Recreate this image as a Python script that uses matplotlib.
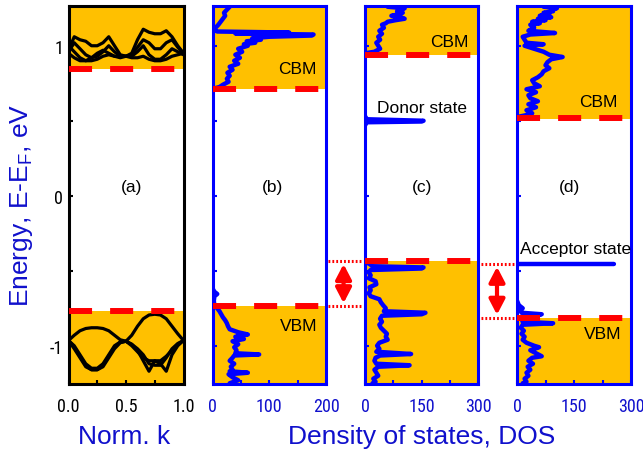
import numpy as np
import matplotlib.pyplot as plt
from matplotlib import font_manager
from matplotlib.ticker import FixedLocator
from matplotlib.transforms import blended_transform_factory

plt.rcParams['lines.scale_dashes'] = False


def pick_font(names):
    for n in names:
        try:
            font_manager.findfont(n, fallback_to_default=False)
            return n
        except Exception:
            pass
    return 'DejaVu Sans'


narrow = pick_font(['Liberation Sans Narrow', 'Roboto Condensed', 'Liberation Sans'])
sans = pick_font(['Liberation Sans', 'Arial', 'DejaVu Sans'])
plt.rcParams['font.family'] = sans

# ---- band structure (panel a), energies ----
k_pts = [0, 0.05, 0.10, 0.15, 0.20, 0.25, 0.30, 0.35, 0.40, 0.45, 0.50,
         0.55, 0.60, 0.65, 0.70, 0.75, 0.80, 0.85, 0.90, 0.95, 1.0]
cb1 = [0.97, 1.06, 1.04, 1.03, 1.00, 1.00, 1.02, 1.06, 1.00, 0.94, 0.93,
       0.95, 1.04, 1.11, 1.09, 1.08, 1.08, 1.10, 1.06, 1.00, 0.95]
cb2 = [0.96, 1.02, 0.98, 0.94, 0.92, 0.93, 0.96, 1.00, 0.96, 0.93, 0.93,
       0.94, 0.99, 1.04, 1.02, 0.98, 0.98, 1.02, 1.04, 0.99, 0.95]
cb3 = [0.95, 0.92, 0.90, 0.90, 0.92, 0.95, 0.97, 0.95, 0.93, 0.93, 0.93,
       0.93, 0.96, 1.00, 0.94, 0.91, 0.91, 0.94, 0.98, 0.96, 0.94]
cb4 = [1.00, 0.96, 0.92, 0.90, 0.90, 0.91, 0.93, 0.94, 0.93, 0.92, 0.93,
       0.92, 0.92, 0.93, 0.91, 0.90, 0.90, 0.91, 0.93, 0.94, 0.95]
vb1 = [-0.965, -0.93, -0.90, -0.885, -0.88, -0.88, -0.885, -0.90, -0.93, -0.96, -0.97,
       -0.93, -0.87, -0.82, -0.795, -0.79, -0.795, -0.82, -0.87, -0.92, -0.965]
vb2 = [-0.965, -1.00, -1.06, -1.12, -1.15, -1.15, -1.12, -1.06, -1.00, -0.975, -0.97,
       -1.00, -1.04, -1.08, -1.10, -1.10, -1.10, -1.07, -1.03, -0.99, -0.965]
vb3 = [-0.965, -1.01, -1.07, -1.13, -1.16, -1.16, -1.13, -1.07, -1.01, -0.975, -0.97,
       -0.99, -1.02, -1.06, -1.12, -1.13, -1.13, -1.08, -1.02, -0.985, -0.965]
vb4 = [-0.965, -1.02, -1.08, -1.14, -1.16, -1.16, -1.14, -1.08, -1.02, -0.98, -0.97,
       -0.99, -1.03, -1.10, -1.17, -1.10, -1.12, -1.17, -1.06, -1.00, -0.965]
bands = [cb1, cb2, cb3, cb4, vb1, vb2, vb3, vb4]

# ---- DOS curves (panels b, c, d): (energy, DOS) ----
e_b = [1.26, 1.24, 1.22, 1.20, 1.18, 1.16, 1.14, 1.12, 1.105, 1.095, 1.088, 1.082,
       1.075, 1.068, 1.06, 1.05, 1.04, 1.03, 1.02, 1.01, 1.00, 0.98, 0.96, 0.94,
       0.92, 0.90, 0.88, 0.86, 0.84, 0.82, 0.80, 0.78, 0.76, 0.74, 0.725, 0.713,
       None,
       -0.62, -0.64, -0.655, -0.67, -0.70, -0.735, -0.75, -0.77, -0.79, -0.81, -0.83,
       -0.85, -0.87, -0.89, -0.91, -0.925, -0.94, -0.955, -0.97, -0.99, -1.01, -1.03,
       -1.05, -1.058, -1.065, -1.08, -1.10, -1.12, -1.14, -1.16, -1.17, -1.18, -1.19,
       -1.21, -1.23, -1.25]
dos_b = [30, 25, 20, 22, 18, 14, 10, 5, 3, 8, 135, 40,
         178, 175, 100, 70, 85, 60, 75, 55, 62, 45, 52, 40,
         48, 38, 45, 30, 35, 26, 30, 25, 28, 18, 12, 0,
         None,
         0, 3, 8, 3, 2, 3, 8, 12, 15, 18, 22,
         25, 27, 30, 45, 62, 40, 55, 35, 45, 38, 42,
         40, 82, 38, 35, 30, 38, 32, 35, 30, 62, 28,
         35, 45, 30]

e_c = [1.26, 1.25, 1.24, 1.23, 1.22, 1.21, 1.20, 1.19, 1.18, 1.17, 1.16, 1.15,
       1.14, 1.12, 1.10, 1.08, 1.06, 1.04, 1.02, 1.00, 0.98, 0.96, 0.95,
       None,
       0.53, 0.51, 0.50, 0.495, 0.49, 0.47,
       None,
       -0.44, -0.455, -0.47, -0.478, -0.485, -0.495, -0.51, -0.53, -0.55, -0.57,
       -0.59, -0.61, -0.63, -0.65, -0.67, -0.69, -0.71, -0.73, -0.75, -0.77, -0.78,
       -0.79, -0.80, -0.82, -0.84, -0.86, -0.88, -0.90, -0.92, -0.94, -0.96, -0.98,
       -1.00, -1.02, -1.04, -1.055, -1.065, -1.08, -1.10, -1.12, -1.13, -1.14, -1.16,
       -1.18, -1.20, -1.22, -1.24, -1.25]
dos_c = [60, 105, 95, 85, 100, 90, 70, 95, 105, 80, 60, 55,
         45, 50, 38, 45, 35, 40, 30, 35, 40, 25, 0,
         None,
         0, 5, 155, 150, 5, 0,
         None,
         0, 12, 20, 155, 150, 15, 10, 15, 10, 28,
         30, 12, 15, 10, 15, 38, 42, 48, 55, 50, 160,
         150, 45, 40, 45, 38, 42, 50, 58, 55, 60, 38,
         32, 38, 30, 122, 40, 28, 25, 30, 118, 35, 25,
         30, 35, 22, 28, 20]

e_d = [1.26, 1.25, 1.24, 1.23, 1.22, 1.21, 1.20, 1.19, 1.18, 1.17, 1.16, 1.15,
       1.14, 1.12, 1.10, 1.085, 1.075, 1.06, 1.04, 1.02, 1.01, 1.00, 0.98, 0.96,
       0.94, 0.925, 0.91, 0.89, 0.87, 0.85, 0.83, 0.81, 0.79, 0.77, 0.75, 0.73,
       0.71, 0.69, 0.67, 0.65, 0.63, 0.61, 0.59, 0.57, 0.55, 0.535, 0.525,
       None,
       -0.455, -0.455,
       None,
       -0.70, -0.73, -0.75, -0.765, -0.78, -0.79, -0.80, -0.82, -0.84, -0.85, -0.86,
       -0.88, -0.90, -0.92, -0.94, -0.96, -0.98, -1.00, -1.01, -1.03, -1.05, -1.07,
       -1.08, -1.10, -1.12, -1.14, -1.16, -1.18, -1.20, -1.22, -1.24, -1.25]
dos_d = [70, 105, 90, 95, 70, 85, 60, 90, 55, 75, 40, 60,
         35, 45, 30, 100, 35, 15, 20, 25, 70, 20, 45, 70,
         85, 120, 90, 80, 75, 85, 70, 65, 55, 40, 45, 60,
         25, 50, 30, 35, 55, 30, 50, 25, 40, 20, 0,
         None,
         0, 255,
         None,
         0, 5, 15, 8, 12, 65, 20, 12, 15, 95, 15,
         10, 18, 12, 20, 15, 25, 45, 58, 35, 50, 65,
         40, 30, 42, 28, 35, 25, 30, 20, 25, 15]

# band edges (eV) for panels a-d, and the defect states
cbm = [0.842, 0.712, 0.94, 0.515]
vbm = [-0.765, -0.735, -0.437, -0.812]
acceptor = -0.455

panel_tags = ['(a)', '(b)', '(c)', '(d)']
dos_max = [200, 300, 300]
dos_ticks = [[0, 100, 200], [0, 150, 300], [0, 150, 300]]
dos_minor = [[50, 150], [75, 225], [75, 225]]

orange = '#ffc000'
blue = '#0000ff'
tblue = '#1010cc'
ylim = (-1.255, 1.265)

fig = plt.figure(figsize=(6.43, 4.60), dpi=100)
W, H = 643, 460
boxes = [(68.5, 183.5), (212.7, 326), (365, 478.3), (517, 631)]
top_px, bot_px = 7, 385
axes = []
for x0, x1 in boxes:
    ax = fig.add_axes([x0 / W, 1 - bot_px / H, (x1 - x0) / W, (bot_px - top_px) / H])
    axes.append(ax)


def to_arrays(e, d):
    e = np.array([np.nan if v is None else v for v in e], dtype=float)
    d = np.array([np.nan if v is None else v for v in d], dtype=float)
    return e, d


def tr(a):
    return blended_transform_factory(a.transAxes, a.transData)


for i, ax in enumerate(axes):
    ax.set_ylim(*ylim)
    ax.axhspan(cbm[i], ylim[1], color=orange, lw=0, zorder=0)
    ax.axhspan(ylim[0], vbm[i], color=orange, lw=0, zorder=0)
    col = 'black' if i == 0 else blue
    for s in ax.spines.values():
        s.set_color(col)
        s.set_linewidth(2.2)
    ax.yaxis.set_major_locator(FixedLocator([-1, 0, 1]))
    ax.yaxis.set_minor_locator(FixedLocator([-0.5, 0.5]))
    ax.tick_params(which='both', direction='in', length=3, width=1.5, color=col,
                   top=False, right=False)
    ax.tick_params(axis='x', which='major', pad=9, labelsize=13,
                   labelcolor='black' if i == 0 else tblue)
    ax.tick_params(axis='y', which='major', pad=4, labelsize=13)
    if i > 0:
        ax.set_yticklabels([])

# panel a
ax = axes[0]
ax.set_xlim(0, 1)
for b in bands:
    ax.plot(k_pts, b, color='black', lw=2.3, zorder=3)
ax.xaxis.set_major_locator(FixedLocator([0, 0.5, 1.0]))
ax.xaxis.set_minor_locator(FixedLocator([0.25, 0.75]))
ax.set_xticklabels(['0.0', '0.5', '1.0'], fontfamily=narrow)
ax.set_yticklabels(['-1', '0', '1'], fontfamily=narrow)

# panels b-d
for j, (e, d) in enumerate([(e_b, dos_b), (e_c, dos_c), (e_d, dos_d)]):
    ax = axes[j + 1]
    ee, dd = to_arrays(e, d)
    ax.plot(dd, ee, color=blue, lw=3.2, solid_joinstyle='round',
            solid_capstyle='round', zorder=3)
    ax.set_xlim(0, dos_max[j])
    ax.xaxis.set_major_locator(FixedLocator(dos_ticks[j]))
    ax.xaxis.set_minor_locator(FixedLocator(dos_minor[j]))
    ax.set_xticklabels([str(t) for t in dos_ticks[j]], fontfamily=narrow)

# red dashed band-edge lines
for i, ax in enumerate(axes):
    for lev in (cbm[i], vbm[i]):
        ax.plot([0, 1], [lev, lev], color='#ff0000', lw=4.3,
                dashes=(16.6, 13.0), dash_capstyle='butt',
                transform=tr(ax), zorder=4)

# panel tags and labels
tag_x = [0.55, 0.53, 0.50, 0.46]
for i, ax in enumerate(axes):
    ax.text(tag_x[i], 0.06, panel_tags[i], transform=tr(ax),
            ha='center', va='center', fontsize=12.5, zorder=5)
axes[1].text(0.75, 0.845, 'CBM', transform=tr(axes[1]), ha='center', va='center', fontsize=12.5, zorder=5)
axes[1].text(0.755, -0.867, 'VBM', transform=tr(axes[1]), ha='center', va='center', fontsize=12.5, zorder=5)
axes[2].text(0.74, 1.027, 'CBM', transform=tr(axes[2]), ha='center', va='center', fontsize=12.5, zorder=5)
axes[2].text(0.50, 0.59, 'Donor state', transform=tr(axes[2]), ha='center', va='center', fontsize=12.5, zorder=5)
axes[3].text(0.71, 0.63, 'CBM', transform=tr(axes[3]), ha='center', va='center', fontsize=12.5, zorder=5)
axes[3].text(0.51, -0.35, 'Acceptor state', transform=tr(axes[3]), ha='center', va='center', fontsize=12.5, zorder=5)
axes[3].text(0.755, -0.92, 'VBM', transform=tr(axes[3]), ha='center', va='center', fontsize=12.5, zorder=5)

# dotted guides and double arrows between panels
gaps = [(axes[1], vbm[2], vbm[1], 1.155), (axes[2], acceptor, vbm[3], 1.165)]
for ax, e_hi, e_lo, xa in gaps:
    for lev in (e_hi, e_lo):
        ax.plot([1.02, 1.33], [lev, lev], color='#ff0000', lw=2.2, ls=(0, (1.3, 1.5)),
                transform=tr(ax), clip_on=False, zorder=6)
    ax.annotate('', xy=(xa, e_hi), xytext=(xa, e_lo),
                xycoords=tr(ax), textcoords=tr(ax), annotation_clip=False,
                arrowprops=dict(arrowstyle='<|-|>,head_length=0.5,head_width=0.26',
                                color='#ff0000', lw=3, shrinkA=2, shrinkB=2,
                                mutation_scale=18))

fig.text(22 / W, 1 - 205 / H, r'Energy, E-E$_\mathregular{F}$, eV', rotation=90,
         ha='center', va='center', fontsize=19, color=tblue)
fig.text(124 / W, 1 - 437 / H, 'Norm. k', ha='center', va='center', fontsize=19, color=tblue)
fig.text(422 / W, 1 - 437 / H, 'Density of states, DOS', ha='center', va='center',
         fontsize=19, color=tblue)

fig.savefig('out.png', dpi=100)
